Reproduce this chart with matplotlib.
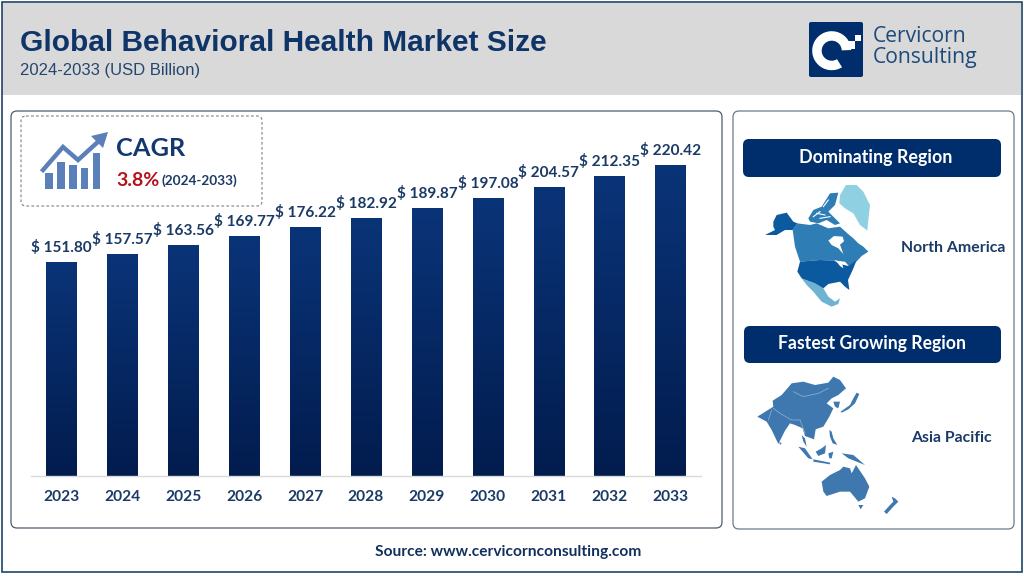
import numpy as np
import matplotlib
matplotlib.use('Agg')
import matplotlib.pyplot as plt
from matplotlib.colors import LinearSegmentedColormap
from matplotlib.patches import FancyBboxPatch, Polygon, Rectangle, Wedge

years = ['2023', '2024', '2025', '2026', '2027', '2028', '2029', '2030', '2031', '2032', '2033']
values = [151.80, 157.57, 163.56, 169.77, 176.22, 182.92, 189.87, 197.08, 204.57, 212.35, 220.42]

title = 'Global Behavioral Health Market Size'
subtitle = '2024-2033 (USD Billion)'
source = 'Source: www.cervicornconsulting.com'

NAVY = '#002d6b'
TEXT = '#1b3a66'
LABEL_FONT = ['Lato', 'DejaVu Sans']

# north america silhouette, 3x crop coordinates from (760, 180)
greenland = [(240, 45), (258, 15), (290, 15), (310, 35), (330, 75), (325, 120), (322, 152), (300, 135), (280, 100),
             (255, 85), (238, 70)]
alaska = [(40, 125), (50, 105), (80, 98), (100, 125), (112, 130), (98, 150), (75, 150), (50, 165), (15, 165), (45, 150),
          (40, 140)]
canada = [(98, 150), (112, 130), (150, 135), (170, 130), (205, 145), (240, 140), (262, 160), (280, 175),
          (295, 190), (310, 200), (325, 215), (305, 228), (292, 242), (270, 262), (255, 245), (220, 242), (180, 240),
          (120, 245), (105, 200)]
arctic = [(145, 115), (160, 90), (185, 80), (210, 40), (235, 38), (225, 75), (205, 95), (240, 130), (225, 135),
          (200, 120), (175, 130), (150, 125)]
hudson = [(205, 182), (222, 168), (248, 170), (252, 184), (240, 194), (250, 222), (235, 205), (215, 195)]
usa = [(120, 245), (180, 240), (225, 242), (240, 252), (265, 258), (290, 240), (278, 270), (264, 300), (268, 330),
       (255, 320), (240, 305), (205, 312), (190, 325), (165, 310), (125, 295), (112, 275)]
lakes = [(222, 240), (245, 245), (250, 265), (240, 258), (232, 248)]
mexico = [(125, 295), (165, 310), (190, 325), (205, 350), (225, 365), (240, 355), (235, 372), (215, 380), (185, 365),
          (160, 335), (140, 315)]
arctic_gaps = [[(170, 100), (195, 105)], [(180, 115), (210, 110)], [(205, 60), (190, 80)], [(160, 110), (180, 95)]]

# asia pacific silhouette, 3x crop coordinates from (750, 370)
asia = [(22, 140), (70, 110), (68, 92), (95, 75), (125, 40), (160, 35), (195, 45), (235, 38), (250, 20), (270, 30),
        (288, 55), (265, 75), (245, 85), (230, 100), (250, 115), (238, 140), (220, 170), (197, 178), (192, 208),
        (165, 198), (158, 175), (135, 165), (120, 160), (105, 182), (85, 222), (65, 180), (50, 155)]
korea = [(250, 95), (270, 95), (265, 115), (255, 110)]
japan = [(272, 125), (300, 105), (310, 85), (320, 68), (328, 72), (315, 100), (295, 118), (275, 128)]
sumatra = [(145, 230), (165, 235), (188, 268), (175, 265)]
java = [(190, 268), (240, 278), (240, 283), (190, 275)]
borneo = [(197, 245), (215, 235), (228, 225), (225, 250), (205, 258)]
sulawesi = [(235, 250), (250, 245), (245, 265), (238, 265)]
guinea = [(275, 250), (310, 255), (345, 285), (320, 275), (295, 265)]
philippines = [(238, 180), (245, 185), (250, 205), (262, 225), (248, 220), (240, 200)]
malaya = [(155, 195), (165, 205), (170, 230), (160, 215)]
sri_lanka = [(88, 215), (95, 220), (90, 225)]
australia = [(215, 335), (240, 315), (270, 300), (280, 290), (300, 295), (305, 310), (318, 285), (345, 325), (358, 350),
             (345, 385), (325, 395), (300, 365), (270, 365), (230, 378), (220, 365)]
tasmania = [(325, 405), (340, 405), (332, 418)]
new_zealand = [(425, 380), (435, 385), (445, 395), (430, 410), (410, 432), (402, 425), (420, 405), (430, 395)]
asia_borders = [[(130, 65), (160, 80), (205, 70), (235, 55)], [(70, 115), (90, 130), (125, 150), (150, 150)],
                [(65, 120), (55, 150)], [(150, 150), (165, 190)]]


def crop_pts(pts, x0, y0):
    return [(x0 + px / 3, y0 + py / 3) for px, py in pts]


def rbox(ax, x0, y0, x1, y1, r=6, **kw):
    box = FancyBboxPatch((x0 + r, y0 + r), x1 - x0 - 2 * r, y1 - y0 - 2 * r,
                         boxstyle=f'round,pad={r},rounding_size={r}', **kw)
    ax.add_patch(box)
    return box


fig = plt.figure(figsize=(10.24, 5.76), dpi=100, facecolor='white')

# page layer in pixel coordinates
page = fig.add_axes([0, 0, 1, 1], zorder=0)
page.set_xlim(0, 1024)
page.set_ylim(576, 0)
page.axis('off')

page.add_patch(Rectangle((2, 3), 1019, 92, fc='#d9d9d9', ec='none'))
page.add_patch(Rectangle((1.5, 1.5), 1020, 570, fc='none', ec='#1f4468', lw=1.2))

page.text(20, 43, title, family='Liberation Sans', weight='bold', fontsize=21.5, color='#0f3468', va='center')
page.text(20, 71, subtitle, family='Liberation Sans', fontsize=12, color='#24466e', va='center')

# logo
rbox(page, 809, 22, 863, 77, r=2, fc=NAVY, ec='none')
page.add_patch(Wedge((831.7, 50.7), 19.5, 58, 358, width=9.5, fc='white', ec='none'))
page.add_patch(Rectangle((847, 41), 8, 7.5, fc='white', ec='none'))
page.add_patch(Rectangle((854.5, 35), 6, 6, fc='white', ec='none'))
page.text(873, 37, 'Cervicorn', family='Open Sans', weight='medium', fontsize=15.2, color='#1d4a7c', va='center')
page.text(873, 58, 'Consulting', family='Open Sans', weight='medium', fontsize=15.2, color='#1d4a7c', va='center')

# panels
rbox(page, 11, 111, 722, 528, r=6, fc='white', ec='#4d5d6d', lw=0.9)
rbox(page, 733, 111, 1014, 529, r=6, fc='white', ec='#6d7a86', lw=0.9)
rbox(page, 21, 116, 262, 206, r=5, fc='white', ec='#808080', lw=0.8, ls=(0, (2.5, 2)), zorder=3)

# CAGR badge
for x0, x1, top in [(45, 53, 173), (57, 65, 162), (69, 77, 165), (81, 88, 168), (93, 100, 153)]:
    page.add_patch(Rectangle((x0, top), x1 - x0, 189 - top, fc='#5b7fb8', ec='none', zorder=4))
page.plot([43, 63, 78, 100], [170, 147, 160, 140], color='#5b7fb8', lw=3.2, zorder=4, solid_joinstyle='miter')
page.add_patch(Polygon([(108, 132), (91, 136), (103, 148)], fc='#5b7fb8', ec='none', zorder=4))
page.text(116, 149, 'CAGR', family=LABEL_FONT, weight='bold', fontsize=18.3, color='#12386e', va='center', zorder=4)
page.text(116, 180, '3.8%', family=LABEL_FONT, weight='bold', fontsize=14, color='#b5121b', va='center', zorder=4)
page.text(162, 181, '(2024-2033)', family=LABEL_FONT, weight='bold', fontsize=9.8, color=TEXT, va='center', zorder=4)

# right hand column
rbox(page, 743, 139, 1001, 177, r=6, fc=NAVY, ec='none')
rbox(page, 744, 326, 1001, 363, r=6, fc=NAVY, ec='none')
page.text(876, 157, 'Dominating Region', family=LABEL_FONT, weight='bold', fontsize=12.9, color='white', ha='center', va='center')
page.text(872, 344, 'Fastest Growing Region', family=LABEL_FONT, weight='bold', fontsize=12.7, color='white', ha='center', va='center')
page.text(953, 248, 'North America', family=LABEL_FONT, weight='bold', fontsize=11.4, color=TEXT, ha='center', va='center')
page.text(951, 438, 'Asia Pacific', family=LABEL_FONT, weight='bold', fontsize=11.4, color=TEXT, ha='center', va='center')

for shape, colour in [(greenland, '#8fd0e3'), (canada, '#2f7db5'), (arctic, '#2f7db5'), (hudson, 'white'),
                      (alaska, '#0b5aa0'), (mexico, '#6eb3d1'), (usa, '#0b5aa0'), (lakes, 'white')]:
    page.add_patch(Polygon(crop_pts(shape, 760, 180), fc=colour, ec='none', zorder=2))
for gap in arctic_gaps:
    gx, gy = zip(*crop_pts(gap, 760, 180))
    page.plot(gx, gy, color='white', lw=0.8, zorder=2)

for shape in [asia, korea, japan, sumatra, java, borneo, sulawesi, guinea, philippines, malaya, sri_lanka, australia,
              tasmania, new_zealand]:
    page.add_patch(Polygon(crop_pts(shape, 750, 370), fc='#3f78ae', ec='none', zorder=2))
for border in asia_borders:
    bx, by = zip(*crop_pts(border, 750, 370))
    page.plot(bx, by, color='#86aad0', lw=0.6, zorder=2)

page.text(508, 552, source, family=LABEL_FONT, weight='bold', fontsize=11.2, color='#12305e', ha='center', va='center')

# bar chart, its own axes over the panel
chart = fig.add_axes([31 / 1024, (576 - 476) / 576, 670 / 1024, 353 / 576], zorder=1)
chart.patch.set_alpha(0)
x = np.arange(len(years))
bars = chart.bar(x, values, width=0.5, color='none', zorder=2)

cmap = LinearSegmentedColormap.from_list('bar', ['#021c4e', '#0a3478'])
grad = np.linspace(1, 0, 128).reshape(-1, 1)
for b in bars:
    im = chart.imshow(grad, extent=[b.get_x(), b.get_x() + b.get_width(), 0, b.get_height()],
                      aspect='auto', cmap=cmap, zorder=2)
    im.set_clip_path(b)

for xi, v in zip(x, values):
    chart.annotate(f'$ {v:.2f}', (xi, v), xytext=(0, 5), textcoords='offset points', ha='center', va='bottom',
                   family=LABEL_FONT, weight='bold', fontsize=11.1, color=TEXT, zorder=5)

chart.set_xlim(-0.5, len(years) - 0.5)
chart.set_ylim(0, 250)
chart.set_xticks(x, years, family=LABEL_FONT, weight='bold', fontsize=11.2, color=TEXT)
chart.set_yticks([])
chart.tick_params(axis='x', length=0, pad=10)
for side in ['top', 'right', 'left']:
    chart.spines[side].set_visible(False)
chart.spines['bottom'].set_color('#d9d9d9')
chart.spines['bottom'].set_linewidth(1)

fig.savefig('out.png', dpi=100)
